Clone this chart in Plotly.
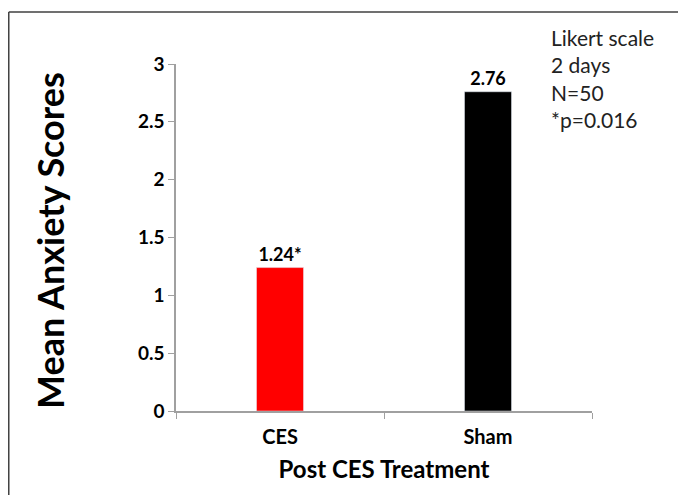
import plotly.graph_objects as go

# datos del gráfico
groups = ['CES', 'Sham']
scores = [1.24, 2.76]
bar_labels = ['1.24*', '2.76']
bar_colors = ['#ff0000', '#000000']
y_ticks = [0, 0.5, 1, 1.5, 2, 2.5, 3]
note_lines = ['Likert scale', '2 days', 'N=50', '*p=0.016']

font_name = 'Lato, Open Sans, sans-serif'

fig = go.Figure()
fig.add_trace(go.Bar(
    x=groups, y=scores, marker_color=bar_colors, width=0.226,
    text=['<b>%s</b>' % t for t in bar_labels], textposition='outside', cliponaxis=False,
    textfont=dict(size=18, color='#000000', family=font_name),
))

# marco exterior (izquierda y arriba); la página tiene 8px de margen
fig.add_shape(type='line', xref='paper', yref='paper', x0=-0.402, x1=1.3, y0=1.150, y1=1.150,
              line=dict(color='#404040', width=1.5))
fig.add_shape(type='line', xref='paper', yref='paper', x0=-0.402, x1=-0.402, y0=1.150, y1=-0.3,
              line=dict(color='#404040', width=1.5))

fig.add_annotation(xref='paper', yref='paper', x=0.897, y=1.117, xanchor='left', yanchor='top',
                   text='<br>'.join(note_lines), showarrow=False, align='left',
                   font=dict(size=21, color='#222222', family=font_name))

# título del eje Y como anotación para fijar su posición
fig.add_annotation(xref='paper', yref='paper', x=-0.303, y=0.493, textangle=-90,
                   xanchor='center', yanchor='middle',
                   text='<b>Mean Anxiety Scores</b>', showarrow=False,
                   font=dict(size=36, color='#000000', family=font_name))

fig.update_layout(
    width=678, height=487,
    margin=dict(l=168, r=94, t=56, b=84),
    plot_bgcolor='white', paper_bgcolor='white',
    showlegend=False,
    font=dict(family=font_name, color='#000000'),
    xaxis=dict(
        showline=True, linecolor='#a0a0a0', linewidth=1.5,
        ticks='outside', tickson='boundaries', ticklen=6, tickcolor='#a0a0a0',
        tickvals=groups, ticktext=['<b>%s</b>' % g for g in groups],
        tickfont=dict(size=20, color='#000000'), ticklabelstandoff=7,
        title=dict(text='<b>Post CES Treatment</b>', font=dict(size=24), standoff=14),
    ),
    yaxis=dict(
        range=[0, 3], showgrid=False, zeroline=False,
        showline=True, linecolor='#a0a0a0', linewidth=1.5,
        ticks='outside', ticklen=6, tickcolor='#a0a0a0',
        tickvals=y_ticks, ticktext=['<b>%g</b>' % v for v in y_ticks],
        tickfont=dict(size=19, color='#000000'),
    ),
)

fig.write_html('out.html')
